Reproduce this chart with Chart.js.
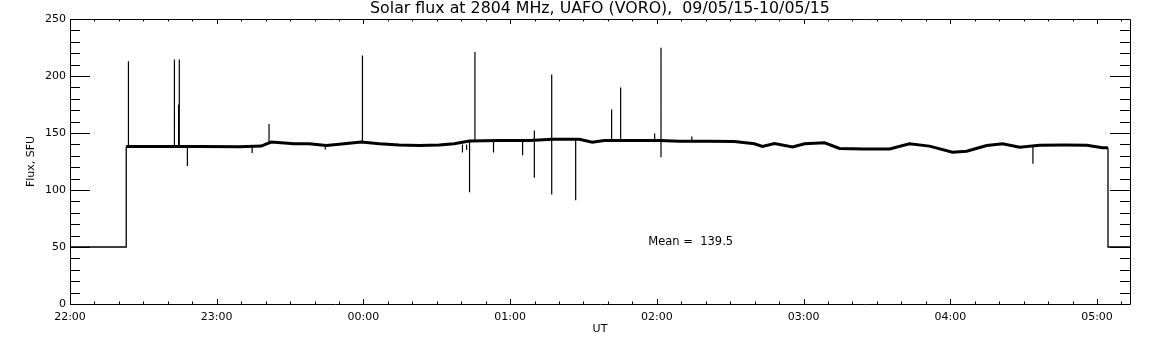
<!DOCTYPE html>
<html>
<head>
<meta charset="utf-8">
<script src="https://cdn.jsdelivr.net/npm/chart.js@4.4.0/dist/chart.umd.min.js"></script>
<style>
body { margin: 0; background: #fff; }
canvas { display: block; background: #fff; }
</style>
</head>
<body>
<canvas id="myChart" width="1152" height="345"></canvas>
<script>
// time in minutes after 22:00 UT
var baseTimes = [23.0, 24.1, 52.8, 69.2, 78.2, 82.3, 86.3, 91.7, 97.8, 104.8, 112.1, 119.1, 126.5, 134.6, 142.8, 151.0, 157.1,
    163.3, 175.6, 187.8, 197.3, 208.3, 213.6, 218.5, 228.8, 241.0, 249.2, 261.5, 271.7, 279.9, 283.2, 288.1, 295.5,
    300.4, 308.6, 314.7, 324.9, 335.2, 343.3, 351.5, 360.9, 366.7, 374.9, 381.4, 388.4, 396.5, 406.8, 415.8, 422.3, 424.5]
var baseFlux = [138.2, 138.2, 138.2, 138.0, 138.5, 142.0, 141.5, 140.5, 140.5, 139.0, 140.5, 142.0, 140.5, 139.5, 139.0, 139.5, 140.5,
    143.0, 143.5, 143.5, 144.5, 144.5, 142.0, 143.5, 143.5, 143.5, 142.8, 142.8, 142.5, 140.5, 138.2, 140.8, 137.8,
    140.5, 141.4, 136.5, 136.0, 136.0, 140.5, 138.5, 133.2, 134.0, 139.0, 140.5, 137.6, 139.3, 139.5, 139.3, 137.0, 137.0]

// level outside the observing window
var stepTimes = [0, 23.0, 23.0, null, 424.5, 424.5, 433.5]
var stepFlux = [50, 50, 138.2, null, 137.0, 50, 50]

// bursts and dropouts: from = level at the foot, to = tip
var spikeTimes = [23.9, 42.7, 44.4, 44.7, 48.0, 74.5, 81.4, 104.4, 119.6, 160.5, 162.2, 163.4, 165.6, 173.2, 185.1,
    189.9, 189.9, 197.0, 197.0, 206.8, 221.5, 225.2, 239.1, 241.7, 241.7, 254.3, 393.8]
var spikeFrom = [138.2, 138.2, 138.2, 138.2, 138.2, 138.0, 142.0, 139.0, 142.0, 140.0, 140.0, 142.0, 143.0, 143.5, 143.5,
    143.5, 143.5, 144.5, 144.5, 144.5, 143.5, 143.5, 143.5, 143.5, 143.5, 142.8, 139.3]
var spikeTo = [213, 214.5, 175, 214.5, 121, 132.5, 158, 135.5, 218, 133, 135, 98, 221, 133, 130.5,
    152.2, 110.7, 201.3, 96, 91, 170.6, 190, 149.6, 224.7, 128.8, 147, 123]

var meanFlux = 139.5
var xMax = 433.5
var titleText = 'Solar flux at 2804 MHz, UAFO (VORO),  09/05/15-10/05/15'

var baseData = baseTimes.map(function (t, i) { return {x: t, y: baseFlux[i]} })
var stepData = stepTimes.map(function (t, i) { return {x: t, y: stepFlux[i]} })
var spikeData = []
for (var i = 0; i < spikeTimes.length; i++) {
    spikeData.push({x: spikeTimes[i], y: spikeFrom[i]})
    spikeData.push({x: spikeTimes[i], y: spikeTo[i]})
    spikeData.push({x: spikeTimes[i], y: spikeFrom[i]})
    spikeData.push({x: spikeTimes[i], y: null})
}

var font = "'DejaVu Sans', sans-serif"

function hhmm(v) {
    var m = (22 * 60 + v) % 1440
    var h = Math.floor(m / 60)
    var mm = m % 60
    return (h < 10 ? '0' : '') + h + ':' + (mm < 10 ? '0' : '') + mm
}

// IDL style box with inward ticks, title over the plot box, mean label
var framePlugin = {
    id: 'frame',
    afterDraw: function (chart) {
        var ctx = chart.ctx
        var a = chart.chartArea
        var xs = chart.scales.x
        var ys = chart.scales.y
        ctx.save()
        ctx.strokeStyle = '#000'
        ctx.lineWidth = 1
        ctx.beginPath()
        ctx.rect(Math.round(a.left) + 0.5, Math.round(a.top) + 0.5, Math.round(a.right - a.left), Math.round(a.bottom - a.top))
        xs.ticks.forEach(function (t) {
            var px = Math.round(xs.getPixelForValue(t.value)) + 0.5
            var len = t.value % 60 === 0 ? 5 : 2.5
            ctx.moveTo(px, a.bottom)
            ctx.lineTo(px, a.bottom - len)
            ctx.moveTo(px, a.top)
            ctx.lineTo(px, a.top + len)
        })
        ys.ticks.forEach(function (t) {
            var py = Math.round(ys.getPixelForValue(t.value)) + 0.5
            var len = t.value % 50 === 0 ? 20 : 10
            ctx.moveTo(a.left, py)
            ctx.lineTo(a.left + len, py)
            ctx.moveTo(a.right, py)
            ctx.lineTo(a.right - len, py)
        })
        ctx.stroke()
        ctx.fillStyle = '#000'
        ctx.textBaseline = 'middle'
        ctx.textAlign = 'center'
        ctx.font = '15.8px ' + font
        ctx.fillText(titleText, (a.left + a.right) / 2, 9)
        ctx.textAlign = 'left'
        ctx.font = '11.5px ' + font
        ctx.fillText('Mean =  ' + meanFlux.toFixed(1), xs.getPixelForValue(236.5), ys.getPixelForValue(54))
        ctx.restore()
    }
}

var chartField = document.querySelector('#myChart').getContext('2d')

var myChart = new Chart(chartField, {
    type: 'line',
    data: {
        datasets: [{
            data: baseData,
            borderColor: '#000',
            borderWidth: 3,
            pointRadius: 0,
            tension: 0
        }, {
            data: stepData,
            borderColor: '#000',
            borderWidth: 1.3,
            pointRadius: 0,
            tension: 0,
            spanGaps: false
        }, {
            data: spikeData,
            borderColor: '#000',
            borderWidth: 1.2,
            pointRadius: 0,
            tension: 0,
            spanGaps: false
        }]
    },
    options: {
        responsive: false,
        animation: false,
        layout: {padding: {left: 0, right: 22, top: 19, bottom: 0}},
        plugins: {
            legend: {display: false},
            tooltip: {enabled: false},
            title: {display: false}
        },
        scales: {
            x: {
                type: 'linear',
                min: 0,
                max: xMax,
                grid: {display: false, drawTicks: false},
                border: {display: false},
                ticks: {
                    stepSize: 10,
                    includeBounds: false,
                    autoSkip: false,
                    maxRotation: 0,
                    padding: 7,
                    color: '#000',
                    font: {family: font, size: 11},
                    callback: function (v) { return v % 60 === 0 ? hhmm(v) : '' }
                },
                title: {
                    display: true,
                    text: 'UT',
                    color: '#000',
                    font: {family: font, size: 11},
                    padding: {top: 0, bottom: 9.7}
                },
                afterFit: function (s) { s.height = 41 }
            },
            y: {
                min: 0,
                max: 250,
                grid: {display: false, drawTicks: false},
                border: {display: false},
                ticks: {
                    stepSize: 10,
                    autoSkip: false,
                    padding: 4,
                    color: '#000',
                    font: {family: font, size: 11},
                    callback: function (v) { return v % 50 === 0 ? String(v) : '' }
                },
                title: {
                    display: true,
                    text: 'Flux, SFU',
                    color: '#000',
                    font: {family: font, size: 11},
                    padding: {top: 24.4, bottom: 0}
                },
                afterFit: function (s) { s.width = 70 }
            }
        }
    },
    plugins: [framePlugin]
})
</script>
</body>
</html>
